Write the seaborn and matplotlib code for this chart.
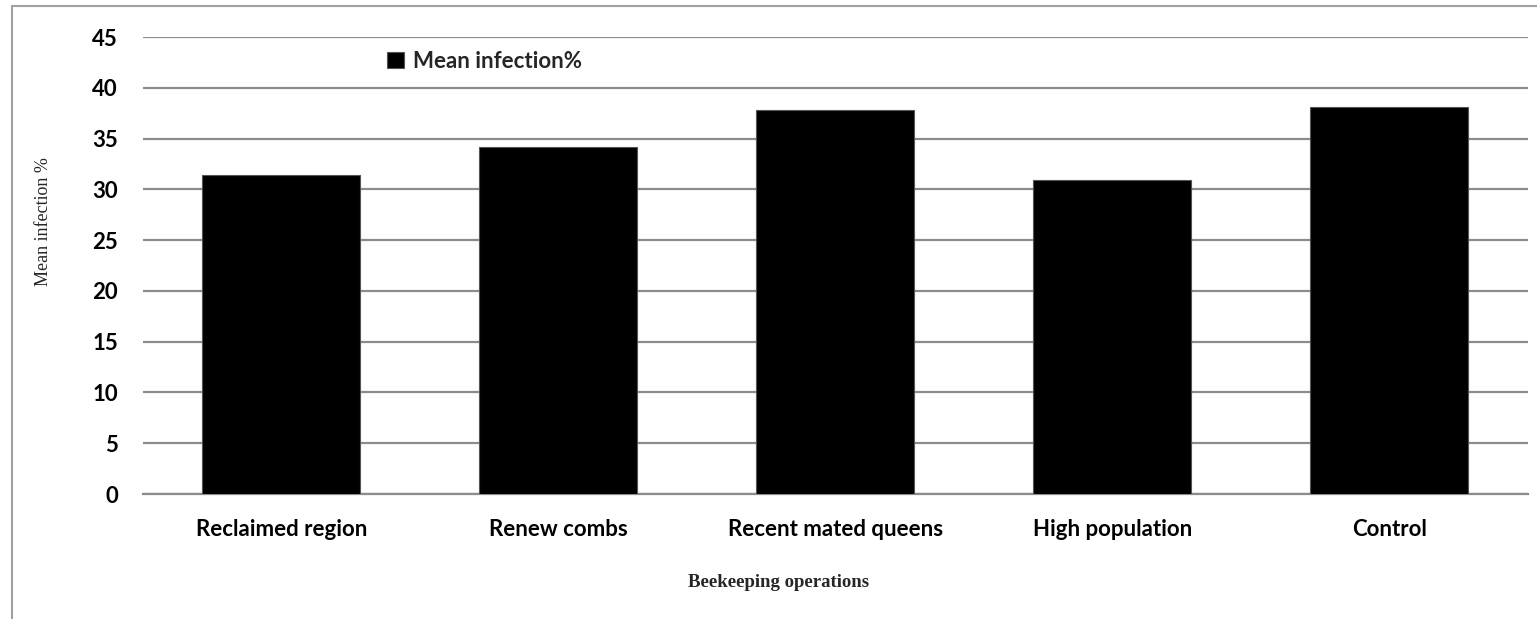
import matplotlib
matplotlib.use("Agg")
import matplotlib.pyplot as plt
from matplotlib.lines import Line2D
import seaborn as sns
import pandas as pd

operations = ["Reclaimed region", "Renew combs", "Recent mated queens",
              "High population", "Control"]
mean_infection = [31.4, 34.2, 37.8, 30.9, 38.1]
y_ticks = [0, 5, 10, 15, 20, 25, 30, 35, 40, 45]

sns.set_theme(style="white")
plt.rcParams["font.family"] = ["Lato", "Liberation Sans", "DejaVu Sans"]

df = pd.DataFrame({"operation": operations, "infection": mean_infection})

fig = plt.figure(figsize=(15.37, 6.19), dpi=100)
ax = fig.add_axes([0.0930, 0.2019, 0.9011, 0.7383])

sns.barplot(data=df, x="operation", y="infection", color="black",
            width=0.57, saturation=1, edgecolor="#555555", linewidth=0.8,
            label="Mean infection%", ax=ax, zorder=3)

tick_font = 16
ax.set_ylim(0, 45)
ax.set_xlim(-0.5, len(operations) - 0.5)
ax.set_yticks(y_ticks)
ax.set_yticklabels([str(t) for t in y_ticks], fontsize=tick_font,
                   fontweight="bold")
ax.set_xticks(range(len(operations)))
ax.set_xticklabels(operations, fontsize=tick_font, fontweight="bold")
ax.tick_params(axis="both", length=0, colors="black")
ax.tick_params(axis="y", pad=18)
ax.tick_params(axis="x", pad=18)

ax.yaxis.grid(True, color="#8c8c8c", linewidth=1.6, zorder=0)
ax.xaxis.grid(False)
for side in ["left", "right", "top"]:
    ax.spines[side].set_visible(False)
ax.spines["bottom"].set_color("#8c8c8c")
ax.spines["bottom"].set_linewidth(1.6)

ax.set_ylabel("Mean infection %", fontsize=13, family="Liberation Serif")
ax.yaxis.set_label_coords(-0.066, 0.597)
ax.set_xlabel("Beekeeping operations", fontsize=13.5, fontweight="bold",
              family="Liberation Serif")
ax.xaxis.set_label_coords((779 - 143) / 1385, -0.175)

ax.legend(loc="center left", bbox_to_anchor=(0.17, 0.9475),
          frameon=False, handlelength=0.75, handleheight=0.75,
          handletextpad=0.4, borderaxespad=0,
          prop={"size": tick_font, "weight": "bold",
                "family": ["Lato", "Liberation Sans", "DejaVu Sans"]})

# outer chart frame
fig.add_artist(Line2D([11.5 / 1537, 11.5 / 1537], [0, 1 - 6 / 619],
                      transform=fig.transFigure, color="#a0a0a0", lw=1.5))
fig.add_artist(Line2D([11.5 / 1537, 1], [1 - 6 / 619, 1 - 6 / 619],
                      transform=fig.transFigure, color="#a0a0a0", lw=1.5))

fig.savefig("out.png", dpi=100, facecolor="white")
